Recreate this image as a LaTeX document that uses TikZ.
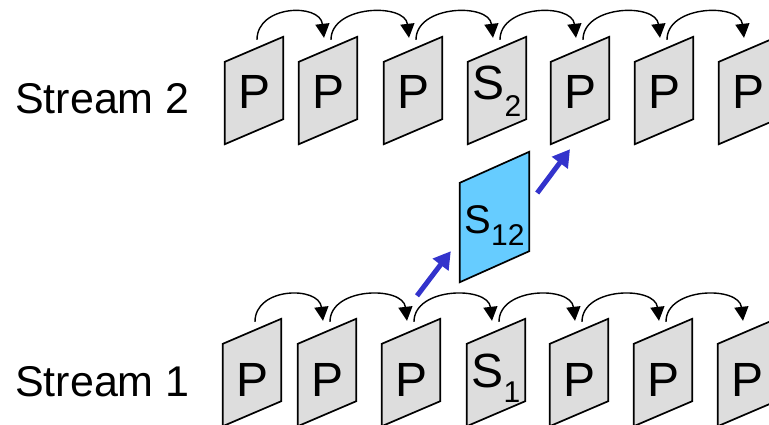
\documentclass[tikz,border=0pt]{standalone}
\usepackage{fontspec}
\setmainfont{Liberation Sans}
\usetikzlibrary{arrows.meta,calc}
\definecolor{framegray}{HTML}{DDDDDD}
\definecolor{skyblue}{HTML}{66CCFF}
\definecolor{arrowblue}{HTML}{3333CC}
\newcommand{\bigfont}{\fontsize{48}{48}\selectfont}
\newcommand{\subfont}{\fontsize{30}{30}\selectfont}
\newcommand{\pframe}[3]{\draw[pageedge, fill=#2] (#1.south west) -- ($(#1.north west)+(0,#3)$) -- (#1.north east) -- ($(#1.south east)+(0,-#3)$) -- cycle;}
\begin{document}
\begin{tikzpicture}[x=1pt,y=-1pt,
  framebox/.style={inner sep=0pt, minimum width=58pt, minimum height=107pt},
  pageedge/.style={line width=1.7pt, line join=miter},
  lbl/.style={inner sep=0pt, anchor=base, font=\bigfont},
  hop/.style={line width=1.4pt, -{Triangle[length=14pt,width=14pt]}},
  link/.style={line width=5pt, arrowblue, -{Triangle[length=17pt,width=19pt]}},
  stream/.style={inner sep=0pt, anchor=base west, font=\fontsize{43}{43}\selectfont}]
\useasboundingbox (0,0) rectangle (769,424);

% top row (Stream 2)
\foreach \n/\xl in {1/225, 2/299, 3/384, 4/468, 5/551, 6/635, 7/719} {
  \node[framebox] (t\n) at (\xl+29, 90.5) {};
  \pframe{t\n}{framegray}{25}
}
\foreach \n in {1,2,3,5,6,7}
  \node[lbl] (tl\n) at ($(t\n)+(0.5,17.5)$) {P};
\node[lbl] (tl4) at ($(t4)+(0,8.5)$) {S\raisebox{-17pt}{\subfont 2}};

% bottom row (Stream 1)
\foreach \n/\xl in {1/223, 2/298, 3/382, 4/467, 5/550, 6/634, 7/718} {
  \node[framebox] (b\n) at (\xl+29, 372.5) {};
  \pframe{b\n}{framegray}{25}
}
\foreach \n in {1,2,3,5,6,7}
  \node[lbl] (bl\n) at ($(b\n)+(0.5,23.5)$) {P};
\node[lbl] (bl4) at ($(b4)+(0,14.5)$) {S\raisebox{-15pt}{\subfont 1}};

% switching frame
\node[inner sep=0pt, minimum width=69pt, minimum height=130pt] (s12) at (494.5,217) {};
\pframe{s12}{skyblue}{31}
\node[inner sep=0pt, anchor=base, font=\fontsize{40}{40}\selectfont] (s12l) at ($(s12)+(0,16)$) {S\raisebox{-12pt}{\subfont 12}};

% stream labels
\node[stream] (st2) at (15,113) {Stream 2};
\node[stream] (st1) at (15,396) {Stream 1};

% prediction arcs
\foreach \a/\b in {1/2,2/3,3/4,4/5,5/6,6/7} {
  \draw[hop] ($(t\a.north)+(3,3)$) .. controls +(0,-35) and +(-4,-35) .. ($(t\b.north)+(-4,1)$);
  \draw[hop] ($(b\a.north)+(3,3)$) .. controls +(0,-35) and +(-4,-35) .. ($(b\b.north)+(-4,2)$);
}

% switching arrows
\draw[link] ($(b3.north)+(6,-23)$) -- ($(s12.south west)+(-9,-31)$);
\draw[link] ($(s12.east)+(8,-24)$) -- ($(t5.south)+(-10,5)$);
\end{tikzpicture}
\end{document}
